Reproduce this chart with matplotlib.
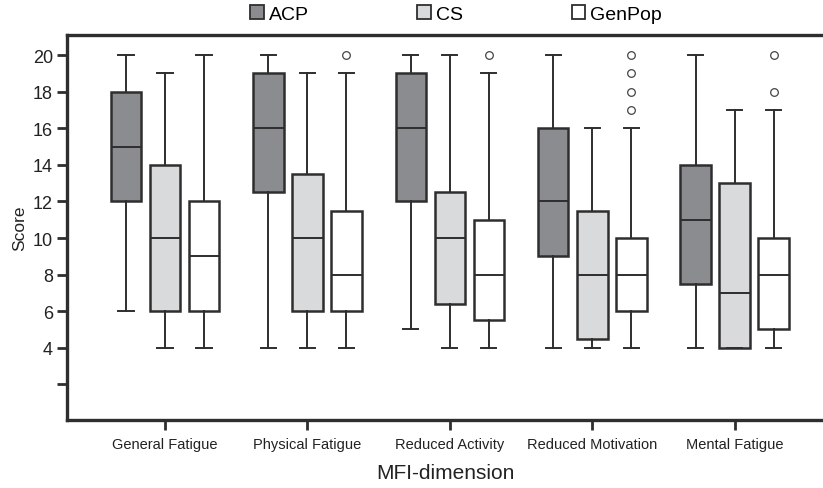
import matplotlib
matplotlib.use("Agg")
import matplotlib.pyplot as plt
from matplotlib.patches import Patch
import numpy as np

plt.rcParams['font.family'] = ['Liberation Sans', 'DejaVu Sans']

categories = ["General Fatigue", "Physical Fatigue", "Reduced Activity",
              "Reduced Motivation", "Mental Fatigue"]
groups = ["ACP", "CS", "GenPop"]

acp_whislo = [6, 4, 5, 4, 4]
acp_q1 = [12, 12.5, 12, 9, 7.5]
acp_med = [15, 16, 16, 12, 11]
acp_q3 = [18, 19, 19, 16, 14]
acp_whishi = [20, 20, 20, 20, 20]
acp_fliers = [[], [], [], [], []]

cs_whislo = [4, 4, 4, 4, 4]
cs_q1 = [6, 6, 6.4, 4.5, 4]
cs_med = [10, 10, 10, 8, 7]
cs_q3 = [14, 13.5, 12.5, 11.5, 13]
cs_whishi = [19, 19, 20, 16, 17]
cs_fliers = [[], [], [], [], []]

gp_whislo = [4, 4, 4, 4, 4]
gp_q1 = [6, 6, 5.5, 6, 5]
gp_med = [9, 8, 8, 8, 8]
gp_q3 = [12, 11.5, 11, 10, 10]
gp_whishi = [20, 19, 19, 16, 17]
gp_fliers = [[], [20], [20], [17, 18, 19, 20], [18, 20]]

ytick_vals = [2, 4, 6, 8, 10, 12, 14, 16, 18, 20]
ytick_labels = ["", "4", "6", "8", "10", "12", "14", "16", "18", "20"]

series = [
    (acp_whislo, acp_q1, acp_med, acp_q3, acp_whishi, acp_fliers),
    (cs_whislo, cs_q1, cs_med, cs_q3, cs_whishi, cs_fliers),
    (gp_whislo, gp_q1, gp_med, gp_q3, gp_whishi, gp_fliers),
]
fills = ["#8b8c8f", "#d9dadb", "#ffffff"]
dark = "#2e2e2e"

fig = plt.figure(figsize=(8.23, 4.89), dpi=100)
ax = fig.add_axes([67/823, 1 - 421/489, 1 - 67/823, (421 - 36)/489])

offsets = [-0.274, 0.0, 0.274]
width = 0.214
x = np.arange(len(categories))

for gi, (wlo, q1, med, q3, whi, fl) in enumerate(series):
    stats = []
    for i in range(len(categories)):
        stats.append(dict(whislo=wlo[i], q1=q1[i], med=med[i], q3=q3[i],
                          whishi=whi[i], fliers=fl[i]))
    ax.bxp(stats, positions=x + offsets[gi], widths=width,
           patch_artist=True, showfliers=True,
           boxprops=dict(facecolor=fills[gi], edgecolor=dark, linewidth=1.8),
           medianprops=dict(color=dark, linewidth=1.4),
           whiskerprops=dict(color=dark, linewidth=1.4),
           capprops=dict(color=dark, linewidth=1.4),
           flierprops=dict(marker='o', markersize=5.5, markerfacecolor='white',
                           markeredgecolor='#444444', markeredgewidth=0.9))

ax.set_xlim(-0.688, 4.62)
ax.set_ylim(0.05, 21.1)
ax.set_xticks(x)
ax.set_xticklabels(categories, fontsize=10.5, color="#222222")
ax.set_yticks(ytick_vals)
ax.set_yticklabels(ytick_labels, fontsize=13, color="#222222")

for s in ["left", "bottom", "top"]:
    ax.spines[s].set_linewidth(2.4)
    ax.spines[s].set_color(dark)
ax.spines["right"].set_visible(False)

ax.tick_params(axis='y', length=7, width=2, color=dark, pad=3)
ax.tick_params(axis='x', length=7, width=2, color=dark, pad=5)

ax.set_ylabel("Score", fontsize=12.5, color="#222222", labelpad=4)
ax.set_xlabel("MFI-dimension", fontsize=15, color="#222222", labelpad=9)

handles = [Patch(facecolor=fills[i], edgecolor=dark, linewidth=1.3, label=groups[i])
           for i in range(3)]
fig.legend(handles=handles, loc='center', bbox_to_anchor=(456/823, 1 - 15/489),
           ncol=3, frameon=False, fontsize=14, handlelength=0.7,
           handleheight=0.7, handletextpad=0.25, columnspacing=5.6,
           borderpad=0)

fig.savefig("out.png", dpi=100)
